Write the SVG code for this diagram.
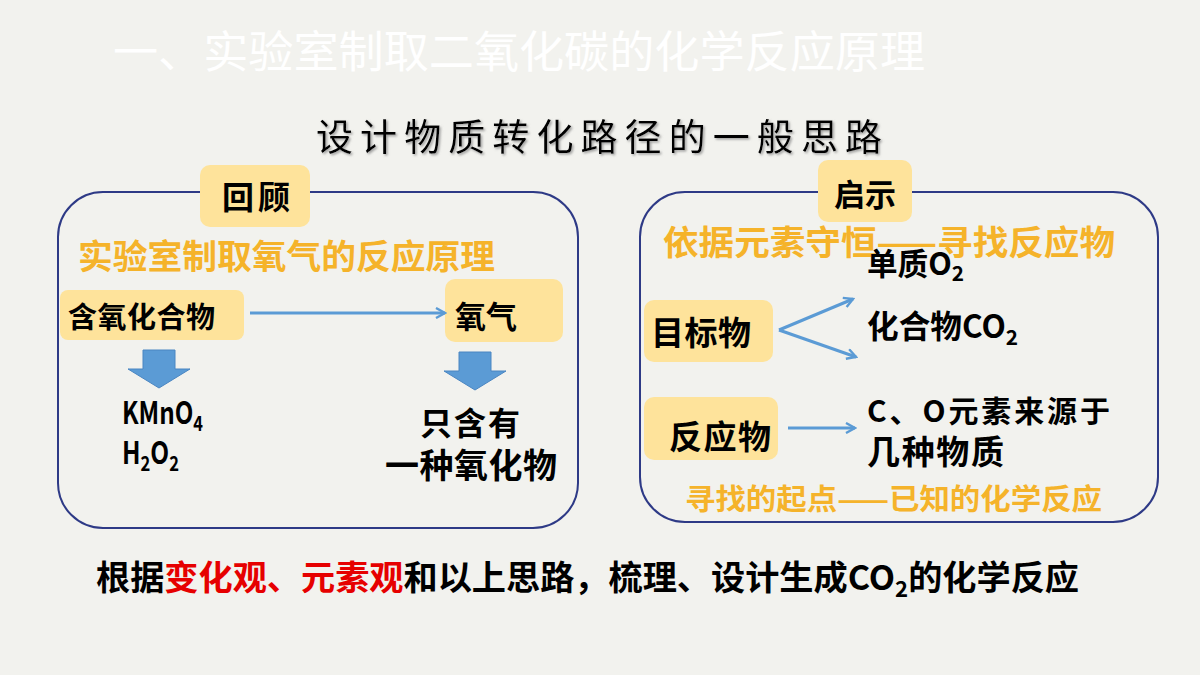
<svg xmlns="http://www.w3.org/2000/svg" width="1200" height="675" viewBox="0 0 1200 675">
<defs>
<style>
text{font-family:"Noto Sans CJK SC","Noto Sans",sans-serif;}
.b{font-weight:bold;fill:#000;}
.o{font-weight:bold;fill:#f5b32a;}
.box{fill:#fee39b;}
.frame{fill:none;stroke:#2e3a86;stroke-width:2;}
.ln{fill:none;stroke:#5b9bd5;stroke-width:3;}
.blk{fill:#5b9bd5;stroke:#4a86c2;stroke-width:1;}
</style>
<marker id="ah" viewBox="0 0 12 12" refX="10" refY="6" markerWidth="12" markerHeight="12" markerUnits="userSpaceOnUse" orient="auto">
<path d="M1,1 L10,6 L1,11" fill="none" stroke="#5b9bd5" stroke-width="2.4"/>
</marker>
<filter id="sh" x="-5%" y="-20%" width="110%" height="140%">
<feDropShadow dx="1.5" dy="1.5" stdDeviation="0.8" flood-color="#888" flood-opacity="0.8"/>
</filter>
</defs>
<rect width="1200" height="675" fill="#f2f2ee"/>
<g id="title">
<text x="113" y="68" font-size="44" fill="#ffffff" textLength="812" lengthAdjust="spacingAndGlyphs">一、实验室制取二氧化碳的化学反应原理</text>
</g>
<g id="subtitle">
<text x="316" y="151" font-size="37" fill="#000" filter="url(#sh)" textLength="566" lengthAdjust="spacing">设计物质转化路径的一般思路</text>
</g>
<g id="left-panel">
<rect class="frame" x="58" y="192" width="520" height="336" rx="45"/>
</g>
<g id="review">
<rect class="box" x="200" y="165" width="110" height="62" rx="10"/>
<text class="b" x="222" y="209" font-size="32" textLength="68">回顾</text>
</g>
<g id="o2-principle">
<text class="o" x="78" y="269" font-size="34" textLength="417" lengthAdjust="spacingAndGlyphs">实验室制取氧气的反应原理</text>
</g>
<g id="oxy-compound">
<rect class="box" x="60" y="290" width="184" height="50" rx="8"/>
<text class="b" x="68" y="328" font-size="29" textLength="147">含氧化合物</text>
</g>
<g id="oxygen">
<rect class="box" x="445" y="279" width="118" height="63" rx="10"/>
<text class="b" x="455" y="328" font-size="31" textLength="62">氧气</text>
</g>
<g id="examples">
<text class="b" x="122" y="424" font-size="31" textLength="81" lengthAdjust="spacingAndGlyphs">KMnO<tspan font-size="21" dy="7">4</tspan></text>
<text class="b" x="122" y="464" font-size="31" textLength="57" lengthAdjust="spacingAndGlyphs">H<tspan font-size="21" dy="7">2</tspan><tspan dy="-7">O</tspan><tspan font-size="21" dy="7">2</tspan></text>
</g>
<g id="one-oxide">
<text class="b" x="420" y="435" font-size="32" textLength="100">只含有</text>
<text class="b" x="385" y="478" font-size="34" textLength="172">一种氧化物</text>
</g>
<g id="right-panel">
<rect class="frame" x="640" y="192" width="518" height="330" rx="45"/>
</g>
<g id="hint">
<rect class="box" x="818" y="160" width="94" height="62" rx="10"/>
<text class="b" x="834" y="206" font-size="31" textLength="62">启示</text>
</g>
<g id="conservation">
<text class="o" x="663" y="255" font-size="34" textLength="452" lengthAdjust="spacingAndGlyphs">依据元素守恒——寻找反应物</text>
</g>
<g id="simple">
<text class="b" x="867" y="275" font-size="31" textLength="97" lengthAdjust="spacingAndGlyphs">单质O<tspan font-size="21" dy="6">2</tspan></text>
</g>
<g id="target">
<rect class="box" x="644" y="300" width="129" height="62" rx="10"/>
<text class="b" x="651" y="345" font-size="33" textLength="100">目标物</text>
</g>
<g id="compound">
<text class="b" x="867" y="338" font-size="32" textLength="151" lengthAdjust="spacingAndGlyphs">化合物CO<tspan font-size="21" dy="7">2</tspan></text>
</g>
<g id="reactant">
<rect class="box" x="644" y="397" width="134" height="63" rx="10"/>
<text class="b" x="669" y="449" font-size="33" textLength="102">反应物</text>
</g>
<g id="source">
<text class="b" x="867" y="422" font-size="30" textLength="243">C、O元素来源于</text>
<text class="b" x="867" y="464" font-size="33" textLength="137">几种物质</text>
</g>
<g id="start-point">
<text class="o" x="685" y="510" font-size="29" textLength="417" lengthAdjust="spacingAndGlyphs">寻找的起点——已知的化学反应</text>
</g>
<g id="connectors">
<line class="ln" x1="250" y1="313" x2="445" y2="313" marker-end="url(#ah)"/>
<path class="blk" d="M143,350 H175 V369 H190 L159,388 L128,369 H143 Z"/>
<path class="blk" d="M459,352 H491 V371 H506 L475,390 L444,371 H459 Z"/>
<line class="ln" x1="779" y1="330" x2="853" y2="299" marker-end="url(#ah)"/>
<line class="ln" x1="779" y1="330" x2="856" y2="357" marker-end="url(#ah)"/>
<line class="ln" x1="788" y1="428" x2="855" y2="428" marker-end="url(#ah)"/>
</g>
<g id="conclusion">
<text class="b" x="96" y="590" font-size="34" textLength="983" lengthAdjust="spacingAndGlyphs">根据<tspan fill="#e60000">变化观、元素观</tspan>和以上思路，梳理、设计生成CO<tspan font-size="22" dy="7">2</tspan><tspan dy="-7">的化学反应</tspan></text>
</g>
</svg>
